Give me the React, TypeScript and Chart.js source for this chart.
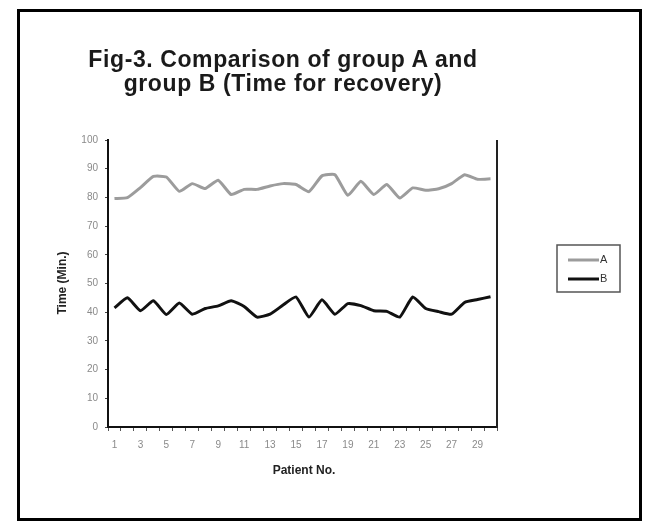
import React, { useEffect, useRef } from "react";
import { Chart, registerables } from "chart.js";

Chart.register(...registerables);

const patients = [
  "1", "2", "3", "4", "5", "6", "7", "8", "9", "10",
  "11", "12", "13", "14", "15", "16", "17", "18", "19", "20",
  "21", "22", "23", "24", "25", "26", "27", "28", "29", "30",
];

const groupA = [
  79.6, 79.9, 83.4, 87.3, 87.1, 82.1, 84.8, 83.1, 86.0, 81.0,
  82.8, 82.8, 84.0, 84.8, 84.5, 82.0, 87.5, 87.9, 80.7, 85.6,
  81.0, 84.5, 79.8, 83.3, 82.5, 83.0, 84.8, 87.9, 86.3, 86.5,
];

const groupB = [
  41.5, 45.0, 40.5, 44.0, 39.2, 43.2, 39.3, 41.3, 42.2, 44.0,
  42.0, 38.3, 39.3, 42.5, 45.3, 38.3, 44.3, 39.3, 43.0, 42.3,
  40.5, 40.3, 38.3, 45.3, 41.3, 40.2, 39.3, 43.4, 44.4, 45.4,
];

const seriesNames = ["A", "B"];
const seriesColors = ["#9c9c9c", "#111111"];
const titleLines = ["Fig-3. Comparison of group A and", "group B (Time for recovery)"];
const yAxisTitle = "Time (Min.)";
const xAxisTitle = "Patient No.";

const W = 653;
const H = 529;
const AREA = { left: 108, right: 497, top: 140, bottom: 427 };

const extrasPlugin = {
  id: "extras",
  afterDraw(chart: any) {
    const { ctx, chartArea } = chart;
    ctx.save();
    ctx.strokeStyle = "#222";
    ctx.lineWidth = 2;
    ctx.beginPath();
    ctx.moveTo(chartArea.right, chartArea.top);
    ctx.lineTo(chartArea.right, chartArea.bottom + 1);
    ctx.stroke();

    const bx = 557, by = 245, bw = 63, bh = 47;
    ctx.strokeStyle = "#555";
    ctx.lineWidth = 1.5;
    ctx.strokeRect(bx, by, bw, bh);
    const rows = [260, 279];
    ctx.font = "11px 'Liberation Sans', Arial, sans-serif";
    ctx.textBaseline = "middle";
    ctx.textAlign = "left";
    seriesNames.forEach((name, i) => {
      ctx.strokeStyle = seriesColors[i];
      ctx.lineWidth = 3;
      ctx.beginPath();
      ctx.moveTo(568, rows[i]);
      ctx.lineTo(599, rows[i]);
      ctx.stroke();
      ctx.fillStyle = "#333";
      ctx.fillText(name, 600, rows[i]);
    });
    ctx.restore();
  },
};

export default function App() {
  const ref = useRef<HTMLCanvasElement | null>(null);

  useEffect(() => {
    if (!ref.current) return;
    const chart = new Chart(ref.current, {
      type: "line",
      data: {
        labels: patients,
        datasets: [
          {
            label: seriesNames[0],
            data: groupA,
            borderColor: seriesColors[0],
            borderWidth: 3,
            pointRadius: 0,
            tension: 0.15,
            fill: false,
          },
          {
            label: seriesNames[1],
            data: groupB,
            borderColor: seriesColors[1],
            borderWidth: 3,
            pointRadius: 0,
            tension: 0.15,
            fill: false,
          },
        ],
      },
      options: {
        responsive: false,
        animation: false,
        devicePixelRatio: 1,
        layout: {
          padding: {
            left: 0,
            top: AREA.top,
            right: W - AREA.right,
            bottom: H - AREA.bottom - 40,
          },
        },
        plugins: {
          legend: { display: false },
          title: { display: false },
          tooltip: { enabled: false },
        },
        scales: {
          x: {
            type: "category",
            offset: true,
            afterFit: (s: any) => {
              s.height = 40;
            },
            border: { display: true, color: "#111", width: 2 },
            grid: {
              display: true,
              drawOnChartArea: false,
              drawTicks: true,
              tickLength: 4,
              color: "#555",
              offset: true,
            },
            ticks: {
              autoSkip: false,
              maxRotation: 0,
              padding: 8,
              color: "#8a8a8a",
              font: { family: "'Liberation Sans', Arial, sans-serif", size: 10 },
              callback: (_v: any, i: number) => (i % 2 === 0 ? patients[i] : ""),
            },
          },
          y: {
            min: 0,
            max: 100,
            afterFit: (s: any) => {
              s.width = AREA.left;
            },
            border: { display: true, color: "#111", width: 2 },
            grid: {
              display: true,
              drawOnChartArea: false,
              drawTicks: true,
              tickLength: 3,
              color: "#444",
            },
            ticks: {
              stepSize: 10,
              padding: 7,
              color: "#8a8a8a",
              font: { family: "'Liberation Sans', Arial, sans-serif", size: 10 },
            },
          },
        },
      },
      plugins: [extrasPlugin],
    });
    return () => chart.destroy();
  }, []);

  return (
    <div
      style={{
        position: "absolute",
        left: 0,
        top: 0,
        width: W,
        height: H,
        background: "#fff",
        fontFamily: "'Liberation Sans', Arial, sans-serif",
      }}
    >
      <canvas
        ref={ref}
        width={W}
        height={H}
        style={{ position: "absolute", left: 0, top: 0, width: W, height: H, display: "block" }}
      />
      <div
        style={{
          position: "absolute",
          left: 17,
          top: 9,
          width: 625,
          height: 512,
          border: "3px solid #000",
          boxSizing: "border-box",
          pointerEvents: "none",
        }}
      />
      <div
        style={{
          position: "absolute",
          left: 33,
          top: 48,
          width: 500,
          textAlign: "center",
          fontWeight: "bold",
          fontSize: 23,
          letterSpacing: "0.6px",
          lineHeight: "23.5px",
          color: "#1a1a1a",
        }}
      >
        <div>{titleLines[0]}</div>
        <div>{titleLines[1]}</div>
      </div>
      <div
        style={{
          position: "absolute",
          left: 62 - 60,
          top: 283 - 8,
          width: 120,
          height: 16,
          lineHeight: "16px",
          textAlign: "center",
          fontWeight: "bold",
          fontSize: 12,
          color: "#222",
          transform: "rotate(-90deg)",
        }}
      >
        {yAxisTitle}
      </div>
      <div
        style={{
          position: "absolute",
          left: 304 - 60,
          top: 462,
          width: 120,
          lineHeight: "16px",
          textAlign: "center",
          fontWeight: "bold",
          fontSize: 12,
          color: "#222",
        }}
      >
        {xAxisTitle}
      </div>
    </div>
  );
}
